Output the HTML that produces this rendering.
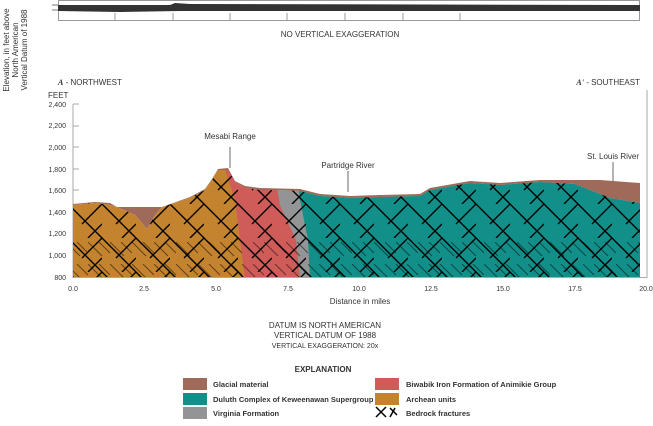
<!DOCTYPE html>
<html><head><meta charset="utf-8"><style>
body{margin:0;background:#fff;width:653px;height:421px;overflow:hidden;font-family:"Liberation Sans",sans-serif}
svg text{font-family:"Liberation Sans",sans-serif;fill:#333}
</style></head><body>
<svg width="653" height="421" viewBox="0 0 653 421" xmlns="http://www.w3.org/2000/svg">
<defs>
<pattern id="frac" width="34" height="34" patternUnits="userSpaceOnUse">
<path d="M0 0L34 34M-17 17L17 51M17 -17L51 17" stroke="#000" stroke-width="1.4"/>
<path d="M34 0L14 20M20 34L34 20" stroke="#000" stroke-width="1.4"/>
</pattern>
<pattern id="frac2" width="22" height="22" patternUnits="userSpaceOnUse">
<path d="M0 0L14 14M11 0L22 11" stroke="#000" stroke-width="1"/>
</pattern>
<clipPath id="rock"><path d="M73,205 L95,203 L110,205 L117,207 L135,215 L147,229 L155,215 L162,207 L190,198 L205,190 L212,180 L218,170 L228,170 L235,182 L245,188 L260,190 L280,190 L300,191 L320,196 L350,198 L380,197 L420,196 L430,190 L470,183 L500,185 L540,182 L575,184 L610,198 L640,203 L640,277 L73,277 Z"/></clipPath>
</defs>
<rect x="58.5" y="0.5" width="581" height="20" fill="none" stroke="#999"/>
<path d="M58 5 L170 5 L175 3 L190 4 L640 5 L640 11 L180 11 L120 12 L58 11Z" fill="#333"/>
<line x1="52" y1="5" x2="58" y2="5" stroke="#777"/><line x1="52" y1="10" x2="58" y2="10" stroke="#777"/>
<g stroke="#999"><line x1="115" y1="13" x2="115" y2="20"/><line x1="173" y1="13" x2="173" y2="20"/><line x1="230" y1="13" x2="230" y2="20"/><line x1="287" y1="13" x2="287" y2="20"/><line x1="345" y1="13" x2="345" y2="20"/><line x1="403" y1="13" x2="403" y2="20"/><line x1="460" y1="13" x2="460" y2="20"/></g>
<text x="340" y="37" font-size="8" text-anchor="middle">NO VERTICAL EXAGGERATION</text>
<g font-size="8" text-anchor="middle">
<text transform="translate(9,50) rotate(-90)">Elevation, in feet above</text>
<text transform="translate(18,50) rotate(-90)">North American</text>
<text transform="translate(27,50) rotate(-90)">Vertical Datum of 1988</text>
</g>
<text x="58" y="85" font-size="8"><tspan font-style="italic" font-family="Liberation Serif" font-weight="bold">A</tspan> - NORTHWEST</text>
<text x="640" y="85" font-size="8" text-anchor="end"><tspan font-style="italic" font-family="Liberation Serif" font-weight="bold">A'</tspan> - SOUTHEAST</text>
<text x="48" y="98" font-size="8">FEET</text>
<g font-size="7" text-anchor="end">
<text x="66" y="107">2,400</text><text x="66" y="128">2,200</text><text x="66" y="150">2,000</text><text x="66" y="172">1,800</text><text x="66" y="193">1,600</text><text x="66" y="215">1,400</text><text x="66" y="236">1,200</text><text x="66" y="258">1,000</text><text x="66" y="280">800</text>
</g>
<g stroke="#aaa"><line x1="73" y1="104" x2="73" y2="278"/><line x1="647" y1="90" x2="647" y2="278"/><line x1="73" y1="277.5" x2="647" y2="277.5"/>
<line x1="73" y1="104" x2="79" y2="104"/><line x1="73" y1="126" x2="79" y2="126"/><line x1="73" y1="147" x2="79" y2="147"/><line x1="73" y1="169" x2="79" y2="169"/><line x1="73" y1="190" x2="79" y2="190"/><line x1="73" y1="212" x2="79" y2="212"/><line x1="73" y1="234" x2="79" y2="234"/><line x1="73" y1="255" x2="79" y2="255"/>
</g>
<path d="M73,204 L95,202 L110,203 L117,207 L162,207 L190,197 L205,189 L212,179 L218,169 L228,168 L235,181 L245,186 L260,188 L300,189 L320,194 L350,196 L380,195 L420,194 L430,188 L470,181 L500,183 L540,180 L600,180 L640,183 L640,203 L610,198 L575,184 L540,182 L500,185 L470,183 L430,190 L420,196 L380,197 L350,198 L320,196 L300,191 L280,190 L260,190 L245,188 L235,182 L228,170 L218,170 L212,180 L205,190 L190,198 L162,207 L155,215 L147,229 L135,215 L117,207 L110,205 L95,203 L73,205 Z" fill="#a06a5a"/>
<g clip-path="url(#rock)">
<rect x="73" y="160" width="575" height="118" fill="#c4832f"/>
<path d="M222,160 L235,200 L240,240 L245,278 L300,278 L296,240 L280,205 L275,160Z" fill="#d05c5a"/>
<path d="M272,160 L280,205 L296,240 L300,278 L310,278 L308,240 L300,200 L298,160Z" fill="#929496"/>
<path d="M296,160 L300,200 L308,240 L310,278 L648,278 L648,160Z" fill="#138f8a"/>
<rect x="73" y="160" width="575" height="118" fill="url(#frac)"/>
<rect x="73" y="235" width="575" height="43" fill="url(#frac2)" opacity="0.5"/>
</g>
<g stroke="#444" stroke-width="0.8"><line x1="230" y1="147" x2="230" y2="168"/><line x1="348" y1="171" x2="348" y2="192"/><line x1="613" y1="162" x2="613" y2="181"/></g>
<g font-size="8" text-anchor="middle"><text x="230" y="139">Mesabi Range</text><text x="348" y="168">Partridge River</text><text x="613" y="159">St. Louis River</text></g>
<g font-size="7" text-anchor="middle">
<text x="73" y="291">0.0</text><text x="144" y="291">2.5</text><text x="216" y="291">5.0</text><text x="288" y="291">7.5</text><text x="359" y="291">10.0</text><text x="431" y="291">12.5</text><text x="503" y="291">15.0</text><text x="575" y="291">17.5</text><text x="646" y="291">20.0</text>
</g>
<text x="360" y="304" font-size="8" text-anchor="middle">Distance in miles</text>
<g text-anchor="middle"><text x="325" y="328" font-size="8">DATUM IS NORTH AMERICAN</text><text x="325" y="338" font-size="8">VERTICAL  DATUM OF 1988</text><text x="325" y="348" font-size="7">VERTICAL EXAGGERATION: 20x</text>
<text x="323" y="372" font-size="8" font-weight="bold" fill="#222">EXPLANATION</text></g>
<rect x="183" y="378" width="24" height="12" fill="#a06a5a"/>
<rect x="183" y="393" width="24" height="12" fill="#138f8a"/>
<rect x="183" y="407" width="24" height="12" fill="#929496"/>
<rect x="375" y="378" width="24" height="12" fill="#d05c5a"/>
<rect x="375" y="393" width="24" height="12" fill="#c4832f"/>
<g stroke="#000" stroke-width="1.5" fill="none"><path d="M376,407 L386,417 M386,407 L376,417 M390,408 L397,415 M395,408 L390,417"/></g>
<g font-size="7.5" font-weight="bold">
<text x="213" y="387" fill="#222">Glacial material</text>
<text x="213" y="402" fill="#222">Duluth Complex of Keweenawan Supergroup</text>
<text x="213" y="416" fill="#222">Virginia Formation</text>
<text x="406" y="387" fill="#222">Biwabik Iron Formation of Animikie Group</text>
<text x="406" y="402" fill="#222">Archean units</text>
<text x="406" y="416" fill="#222">Bedrock fractures</text>
</g>
</svg>
</body></html>
